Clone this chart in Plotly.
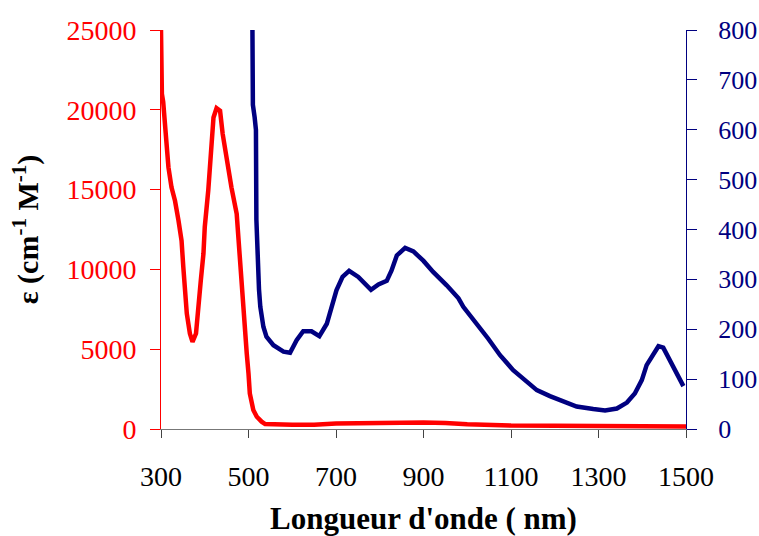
import plotly.graph_objects as go

# Red series: molar absorptivity (left axis)
wl_red = [300, 302, 305, 309, 313, 317, 324, 332, 340, 347, 351, 355, 359, 366, 372,
          380, 385, 391, 397, 400, 408, 412, 420, 427, 435, 441, 450, 461, 473, 479,
          484, 490, 496, 500, 503, 511, 519, 530, 538, 600, 650, 700, 750, 800, 850,
          900, 950, 1000, 1100, 1200, 1300, 1400, 1500]
eps_red = [25000, 21000, 20500, 19300, 17870, 16400, 15140, 14300, 13060, 11800, 10140,
           8900, 7230, 5980, 5460, 5980, 7230, 9310, 10980, 12640, 14940, 16600, 19520,
           20100, 19940, 18480, 16810, 15140, 13480, 10980, 8900, 6810, 4730, 3480, 2230,
           1190, 770, 460, 310, 260, 260, 350, 380, 360, 400, 400, 380, 300, 220, 190,
           170, 160, 150]

# Blue series: right axis
wl_blue = [509, 510, 514, 517, 518, 521, 524, 527, 534, 541, 557, 580, 595, 610, 625,
           644, 662, 679, 690, 701, 715, 730, 751, 766, 780, 797, 816, 827, 839, 858,
           877, 900, 922, 953, 980, 991, 1018, 1048, 1075, 1105, 1136, 1159, 1189, 1220,
           1250, 1288, 1315, 1342, 1365, 1383, 1399, 1410, 1422, 1437, 1448, 1463, 1479,
           1494]
val_blue = [800, 650, 625, 600, 420, 330, 280, 245, 205, 185, 168, 155, 153, 178, 196,
            196, 186, 211, 245, 278, 305, 317, 305, 291, 279, 290, 297, 318, 348, 363,
            356, 337, 315, 288, 262, 245, 215, 181, 148, 118, 95, 78, 66, 55, 45, 40, 37,
            41, 53, 71, 98, 128, 145, 166, 163, 138, 111, 86]

x_ticks = [300, 500, 700, 900, 1100, 1300, 1500]

RED = "#FF0000"
NAVY = "#000080"
FONT = "Liberation Serif"

fig = go.Figure()
fig.add_trace(go.Scatter(x=wl_red, y=eps_red, mode="lines",
                         line=dict(color=RED, width=4.5), yaxis="y", showlegend=False))
fig.add_trace(go.Scatter(x=wl_blue, y=val_blue, mode="lines",
                         line=dict(color=NAVY, width=4.5), yaxis="y2", showlegend=False))

fig.update_layout(
    width=759, height=536,
    margin=dict(l=161, r=73, t=30, b=107, autoexpand=False),
    paper_bgcolor="white", plot_bgcolor="white",
    font=dict(family=FONT, color="black"),
    xaxis=dict(range=[300, 1500], tickvals=x_ticks, ticks="outside", ticklen=8,
               tickcolor="#444", showline=True, linecolor="#777", linewidth=1,
               showgrid=False, zeroline=False, automargin=False,
               ticklabelstandoff=14,
               tickfont=dict(family=FONT, size=28, color="black"),
               title=dict(text="<b>Longueur d'onde ( nm)</b>",
                          font=dict(family=FONT, size=31, color="black"), standoff=16)),
    yaxis=dict(range=[0, 25000], dtick=5000, tickformat="d", ticks="outside", ticklen=10,
               tickcolor=RED, showline=True, linecolor=RED, linewidth=1,
               showgrid=False, zeroline=False, automargin=False,
               ticklabelstandoff=8,
               tickfont=dict(family=FONT, size=28, color=RED),
               title=dict(text="<b>ε (cm<sup>-1</sup> M<sup>-1</sup>)</b>",
                          font=dict(family=FONT, size=30, color="black"), standoff=18)),
    yaxis2=dict(range=[0, 800], dtick=100, tickformat="d", overlaying="y", side="right",
                ticks="outside", ticklen=10, tickcolor=NAVY, showline=True,
                linecolor=NAVY, linewidth=1, showgrid=False, zeroline=False,
                automargin=False, ticklabelstandoff=16,
                tickfont=dict(family=FONT, size=26, color=NAVY)),
)

fig.write_html(
    "out.html",
    config={"displayModeBar": False},
    post_script="document.body.style.margin='0';document.body.style.overflow='hidden';",
)
